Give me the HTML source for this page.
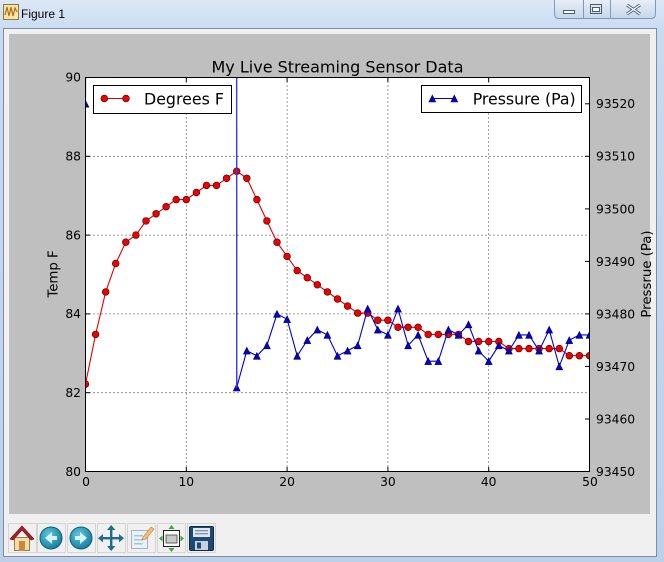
<!DOCTYPE html>
<html><head><meta charset="utf-8"><style>
html,body{margin:0;padding:0;width:664px;height:562px;overflow:hidden;background:#c9daee}
svg{display:block}
</style></head><body>
<svg width="664" height="562" viewBox="0 0 664 562" xmlns="http://www.w3.org/2000/svg">
<defs>
<linearGradient id="frame" x1="0" y1="0" x2="0" y2="1">
<stop offset="0" stop-color="#dce8f6"/><stop offset="0.06" stop-color="#c8daf0"/><stop offset="1" stop-color="#bcd0ea"/>
</linearGradient>
<linearGradient id="btn" x1="0" y1="0" x2="0" y2="1">
<stop offset="0" stop-color="#e6eef8"/><stop offset="1" stop-color="#c7d6ea"/>
</linearGradient>
<radialGradient id="teal" cx="0.4" cy="0.35" r="0.7">
<stop offset="0" stop-color="#5fc7dd"/><stop offset="1" stop-color="#137a9a"/>
</radialGradient>
<clipPath id="ax"><rect x="85.5" y="77.5" width="504" height="394"/></clipPath>
<marker id="mc" markerUnits="userSpaceOnUse" markerWidth="10" markerHeight="10" refX="5" refY="5" overflow="visible">
<circle cx="5" cy="5" r="3.4" fill="#ee0000" stroke="#400000" stroke-width="0.6"/>
</marker>
<marker id="mt" markerUnits="userSpaceOnUse" markerWidth="10" markerHeight="10" refX="5" refY="5" overflow="visible">
<polygon points="5,1.6 1.6,8.4 8.4,8.4" fill="#0000dd" stroke="#000040" stroke-width="0.6"/>
</marker>
</defs>

<!-- window frame -->
<rect x="0" y="0" width="664" height="562" fill="url(#frame)"/>
<!-- title icon -->
<rect x="3.5" y="4.5" width="15" height="15" fill="#f6e7a8" stroke="#8a7a40" stroke-width="1"/>
<polyline points="5,15 7,7 9,16 11,7 13,16 15,8 17,12" fill="none" stroke="#b07018" stroke-width="1.2"/>
<text x="21" y="18" font-family="Liberation Sans, sans-serif" font-size="12" fill="#000">Figure 1</text>
<!-- control box -->
<path d="M554.5,0 L554.5,14 Q554.5,18.5 559,18.5 L651,18.5 Q655.5,18.5 655.5,14 L655.5,0" fill="url(#btn)" stroke="#8398b6" stroke-width="1"/>
<line x1="583.5" y1="0" x2="583.5" y2="18" stroke="#8398b6"/>
<line x1="610.5" y1="0" x2="610.5" y2="18" stroke="#8398b6"/>
<rect x="563.5" y="10.5" width="11" height="3" fill="#fff" stroke="#4a5a70" stroke-width="1"/>
<rect x="590.5" y="4.5" width="11" height="9" fill="none" stroke="#4a5a70" stroke-width="1"/>
<rect x="592.5" y="7.5" width="7" height="4" fill="#fff" stroke="#4a5a70" stroke-width="1"/>
<path d="M627,5 L640,14 M640,5 L627,14" stroke="#4a5a70" stroke-width="3"/>
<path d="M627,5 L640,14 M640,5 L627,14" stroke="#fff" stroke-width="1.2"/>

<!-- client area -->
<rect x="3.5" y="28.5" width="653" height="528" fill="#f0f0f0" stroke="#7d8da3" stroke-width="1"/>
<!-- figure -->
<rect x="9" y="34" width="641" height="480" fill="#bfbfbf"/>
<!-- axes -->
<rect x="85.5" y="77.5" width="504" height="394" fill="#ffffff"/>

<!-- grid -->
<g stroke="#000" stroke-width="0.8" stroke-dasharray="1,3" fill="none">
<line x1="186.3" y1="77.5" x2="186.3" y2="471.5"/>
<line x1="287.1" y1="77.5" x2="287.1" y2="471.5"/>
<line x1="387.9" y1="77.5" x2="387.9" y2="471.5"/>
<line x1="488.7" y1="77.5" x2="488.7" y2="471.5"/>
<line x1="85.5" y1="156.3" x2="589.5" y2="156.3"/>
<line x1="85.5" y1="235.1" x2="589.5" y2="235.1"/>
<line x1="85.5" y1="313.9" x2="589.5" y2="313.9"/>
<line x1="85.5" y1="392.7" x2="589.5" y2="392.7"/>
</g>

<!-- temperature series -->
<g clip-path="url(#ax)">
<polyline fill="none" stroke="#e00000" stroke-width="1.1" marker-start="url(#mc)" marker-mid="url(#mc)" marker-end="url(#mc)"
points="85.5,384.1 95.6,334.4 105.7,291.9 115.7,263.5 125.8,242.2 135.9,235.1 146.0,220.9 156.1,213.8 166.1,206.7 176.2,199.6 186.3,199.6 196.4,192.5 206.5,185.4 216.5,185.4 226.6,178.3 236.7,171.2 246.8,178.3 256.9,199.6 266.9,220.9 277.0,242.2 287.1,256.4 297.2,270.6 307.3,277.7 317.3,284.8 327.4,291.9 337.5,299.0 347.6,306.1 357.7,313.1 367.7,313.1 377.8,320.2 387.9,320.2 398.0,327.3 408.1,327.3 418.1,327.3 428.2,334.4 438.3,334.4 448.4,334.4 458.5,334.4 468.5,341.5 478.6,341.5 488.7,341.5 498.8,341.5 508.9,348.6 518.9,348.6 529.0,348.6 539.1,348.6 549.2,348.6 559.3,348.6 569.3,355.7 579.4,355.7 589.5,355.7"/>
</g>

<!-- legend 1 -->
<rect x="93.5" y="85.5" width="138" height="28" fill="#fff" stroke="#000" stroke-width="1"/>
<line x1="104.3" y1="98.5" x2="126" y2="98.5" stroke="#e00000" stroke-width="1.1"/>
<circle cx="104.3" cy="98.5" r="3.4" fill="#ee0000" stroke="#400000" stroke-width="0.6"/>
<circle cx="126" cy="98.5" r="3.4" fill="#ee0000" stroke="#400000" stroke-width="0.6"/>
<text x="144" y="104.5" font-family="DejaVu Sans, sans-serif" font-size="16" textLength="80" lengthAdjust="spacingAndGlyphs" fill="#000">Degrees F</text>

<!-- pressure series -->
<g clip-path="url(#ax)">
<line x1="85.5" y1="103.8" x2="85.9" y2="0" stroke="#0000ff" stroke-width="1.1"/>
<polygon points="85.5,100.4 82.1,107.2 88.9,107.2" fill="#0000dd" stroke="#000040" stroke-width="0.6"/>
<polyline fill="none" stroke="#0000dd" stroke-width="1.1" marker-mid="url(#mt)" marker-end="url(#mt)"
points="236.6,0 236.7,387.5 246.8,350.7 256.9,355.9 266.9,345.4 277.0,313.9 287.1,319.2 297.2,355.9 307.3,340.2 317.3,329.7 327.4,334.9 337.5,355.9 347.6,350.7 357.7,345.4 367.7,308.7 377.8,329.7 387.9,334.9 398.0,308.7 408.1,345.4 418.1,334.9 428.2,361.2 438.3,361.2 448.4,329.7 458.5,334.9 468.5,324.4 478.6,350.7 488.7,361.2 498.8,345.4 508.9,350.7 518.9,334.9 529.0,334.9 539.1,350.7 549.2,329.7 559.3,366.4 569.3,340.2 579.4,334.9 589.5,334.9"/>
<line x1="236.6" y1="77" x2="236.7" y2="387.5" stroke="#3a3aff" stroke-width="1.3"/>
</g>

<!-- legend 2 -->
<rect x="421.5" y="85.5" width="160" height="27" fill="#fff" stroke="#000" stroke-width="1"/>
<line x1="432.3" y1="98.5" x2="454.3" y2="98.5" stroke="#0000dd" stroke-width="1.1"/>
<polygon points="432.3,95.1 428.9,101.9 435.7,101.9" fill="#0000dd" stroke="#000040" stroke-width="0.6"/>
<polygon points="454.3,95.1 450.9,101.9 457.7,101.9" fill="#0000dd" stroke="#000040" stroke-width="0.6"/>
<text x="472.7" y="104.5" font-family="DejaVu Sans, sans-serif" font-size="16" textLength="103" lengthAdjust="spacingAndGlyphs" fill="#000">Pressure (Pa)</text>

<!-- spines -->
<rect x="85.5" y="77.5" width="504" height="394" fill="none" stroke="#000" stroke-width="1"/>

<!-- ticks -->
<g stroke="#000" stroke-width="1">
<!-- left -->
<line x1="85.5" y1="471.5" x2="90" y2="471.5"/>
<line x1="85.5" y1="392.7" x2="90" y2="392.7"/>
<line x1="85.5" y1="313.9" x2="90" y2="313.9"/>
<line x1="85.5" y1="235.1" x2="90" y2="235.1"/>
<line x1="85.5" y1="156.3" x2="90" y2="156.3"/>
<line x1="85.5" y1="77.5" x2="90" y2="77.5"/>
<!-- right -->
<line x1="589.5" y1="471.5" x2="585" y2="471.5"/>
<line x1="589.5" y1="419" x2="585" y2="419"/>
<line x1="589.5" y1="366.4" x2="585" y2="366.4"/>
<line x1="589.5" y1="313.9" x2="585" y2="313.9"/>
<line x1="589.5" y1="261.4" x2="585" y2="261.4"/>
<line x1="589.5" y1="208.9" x2="585" y2="208.9"/>
<line x1="589.5" y1="156.3" x2="585" y2="156.3"/>
<line x1="589.5" y1="103.8" x2="585" y2="103.8"/>
<!-- bottom/top -->
<line x1="186.3" y1="471.5" x2="186.3" y2="467"/>
<line x1="287.1" y1="471.5" x2="287.1" y2="467"/>
<line x1="387.9" y1="471.5" x2="387.9" y2="467"/>
<line x1="488.7" y1="471.5" x2="488.7" y2="467"/>
<line x1="186.3" y1="77.5" x2="186.3" y2="82"/>
<line x1="287.1" y1="77.5" x2="287.1" y2="82"/>
<line x1="387.9" y1="77.5" x2="387.9" y2="82"/>
<line x1="488.7" y1="77.5" x2="488.7" y2="82"/>
</g>

<!-- tick labels -->
<g font-family="DejaVu Sans, sans-serif" font-size="12.3" fill="#000">
<g text-anchor="end">
<text x="81" y="476">80</text>
<text x="81" y="397">82</text>
<text x="81" y="318">84</text>
<text x="81" y="239.5">86</text>
<text x="81" y="160.5">88</text>
<text x="81" y="81.5">90</text>
</g>
<g text-anchor="start">
<text x="596" y="476">93450</text>
<text x="596" y="423.5">93460</text>
<text x="596" y="371">93470</text>
<text x="596" y="318.5">93480</text>
<text x="596" y="266">93490</text>
<text x="596" y="213.5">93500</text>
<text x="596" y="160.5">93510</text>
<text x="596" y="108">93520</text>
</g>
<g text-anchor="middle">
<text x="86" y="486">0</text>
<text x="186.3" y="486">10</text>
<text x="287.1" y="486">20</text>
<text x="387.9" y="486">30</text>
<text x="488.7" y="486">40</text>
<text x="590" y="486">50</text>
</g>
</g>

<!-- title and axis labels -->
<text x="337.5" y="72.5" text-anchor="middle" font-family="DejaVu Sans, sans-serif" font-size="16" textLength="252" lengthAdjust="spacingAndGlyphs" fill="#000">My Live Streaming Sensor Data</text>
<text transform="translate(57.5,274) rotate(-90)" text-anchor="middle" font-family="DejaVu Sans, sans-serif" font-size="13.3" fill="#000">Temp F</text>
<text transform="translate(651,274) rotate(-90)" text-anchor="middle" font-family="DejaVu Sans, sans-serif" font-size="13.3" fill="#000">Pressrue (Pa)</text>

<!-- toolbar -->
<g stroke="#d4d4d4" stroke-width="1" fill="#f0f0f0">
<rect x="8.5" y="523.5" width="28" height="29"/>
<rect x="37.5" y="523.5" width="28" height="29"/>
<rect x="67.5" y="523.5" width="28" height="29"/>
<rect x="97.5" y="523.5" width="28" height="29"/>
<rect x="127.5" y="523.5" width="28" height="29"/>
<rect x="157.5" y="523.5" width="28" height="29"/>
<rect x="187.5" y="523.5" width="28" height="29"/>
</g>
<!-- home -->
<rect x="14.5" y="537.5" width="15" height="13" fill="#f2dcaa" stroke="#9a7a4a"/>
<rect x="19" y="541" width="6" height="10" fill="#c98a3c"/>
<polygon points="10,539 22,526 34,539 31,540 22,530 13,540" fill="#a8202a" stroke="#6a1018" stroke-width="0.6"/>
<!-- back -->
<circle cx="51" cy="538" r="11" fill="url(#teal)" stroke="#0d5f78" stroke-width="1"/>
<polygon points="45,538 52,532 52,536 57,536 57,540 52,540 52,544" fill="#d8f2f8"/>
<!-- forward -->
<circle cx="81" cy="538" r="11" fill="url(#teal)" stroke="#0d5f78" stroke-width="1"/>
<polygon points="87,538 80,532 80,536 75,536 75,540 80,540 80,544" fill="#d8f2f8"/>
<!-- pan -->
<g fill="#1f6e8c" stroke="none">
<rect x="110" y="528" width="2.4" height="20"/>
<rect x="101" y="537" width="20" height="2.4"/>
<polygon points="111.2,525 107,530 115.4,530"/>
<polygon points="111.2,551 107,546 115.4,546"/>
<polygon points="98,538.2 103,534 103,542.4"/>
<polygon points="124,538.2 119,534 119,542.4"/>
</g>
<!-- edit -->
<rect x="131.5" y="530.5" width="16" height="18" fill="#eaf2f8" stroke="#9fb4c4"/>
<rect x="134" y="535" width="9" height="1.5" fill="#a8c4d8"/>
<rect x="134" y="539" width="9" height="1.5" fill="#a8c4d8"/>
<rect x="134" y="543" width="9" height="1.5" fill="#a8c4d8"/>
<polygon points="143,537 151,527 154,529 146,539 142,540" fill="#f2c070" stroke="#b08040" stroke-width="0.6"/>
<!-- subplots -->
<rect x="163.5" y="530.5" width="16" height="16" fill="#fff" stroke="#202020"/>
<rect x="166" y="535" width="11" height="8" fill="#c8c8c8" stroke="#404040" stroke-width="0.8"/>
<g fill="#3aa83a">
<polygon points="171.5,525 168.5,529 174.5,529"/>
<polygon points="171.5,552 168.5,548 174.5,548"/>
<polygon points="159,538.5 162.5,535.5 162.5,541.5"/>
<polygon points="184,538.5 180.5,535.5 180.5,541.5"/>
</g>
<!-- save -->
<rect x="189.5" y="526.5" width="24" height="24" rx="1.5" fill="#1d4a74" stroke="#0e2a48"/>
<rect x="193" y="528" width="17" height="9" fill="#dfe7ef"/>
<rect x="195" y="530" width="13" height="1.3" fill="#7f95aa"/>
<rect x="195" y="533" width="13" height="1.3" fill="#7f95aa"/>
<rect x="195" y="541" width="13" height="9" fill="#c8d2dc"/>
<rect x="197" y="542.5" width="4" height="6" fill="#1d4a74"/>
</svg>
</body></html>
